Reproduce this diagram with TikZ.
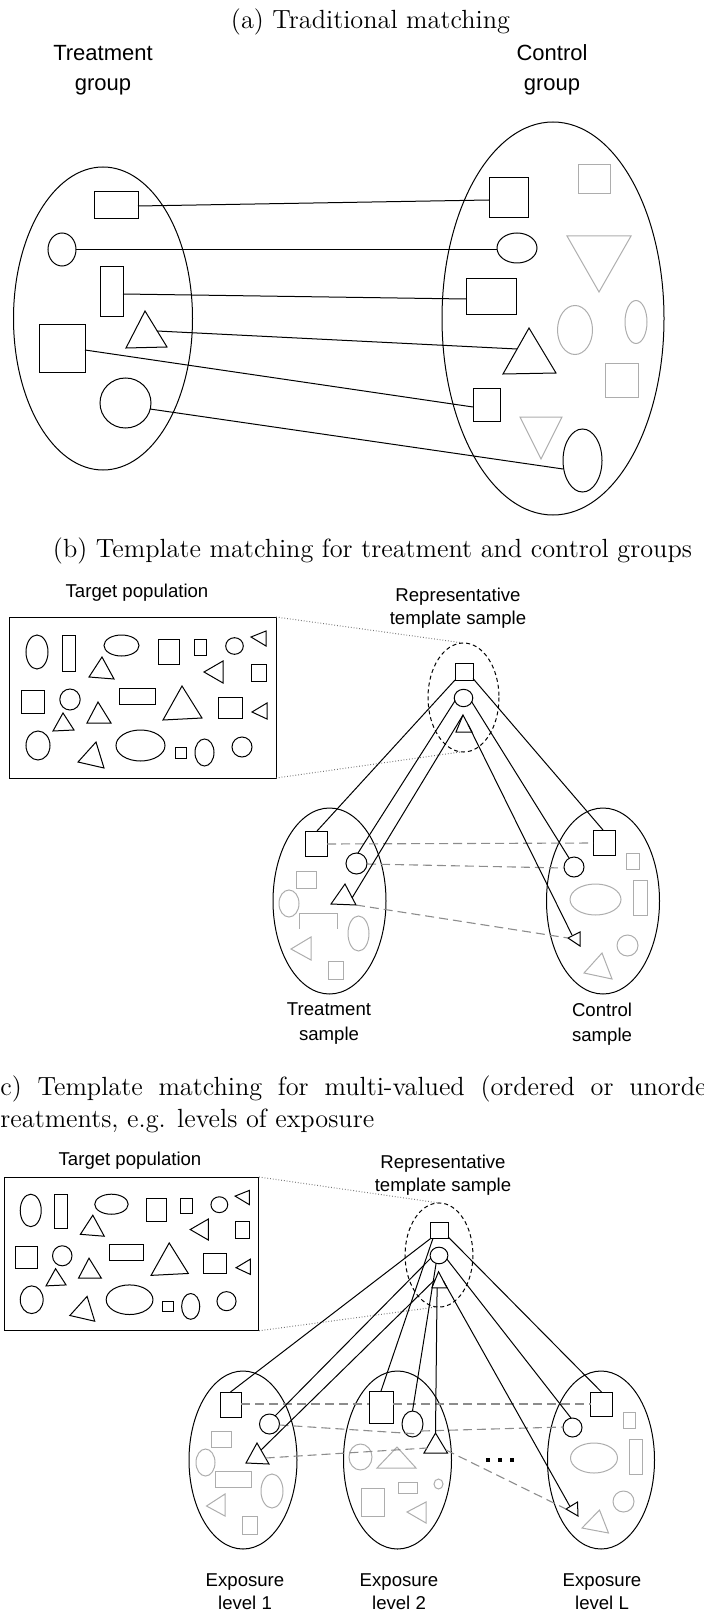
\documentclass[tikz,border=0pt]{standalone}
\usepackage{fontspec}
\setsansfont{Liberation Sans}
\newcommand\popshapes{%
 \draw[sh] (0,0) rectangle (267,161);
 \draw[sh] (28,35) ellipse [x radius=11,y radius=17];
 \draw[sh] (53,18) rectangle (66,54);
 \draw[sh] (112.5,28.5) ellipse [x radius=17.5,y radius=10.5];
 \draw[sh] (93,40) -- (80,60) -- (105,62) -- cycle;
 \draw[sh] (149,22) rectangle (170,47);
 \draw[sh] (185,22) rectangle (197,38);
 \draw[sh] (225.5,29) ellipse [x radius=8.8,y radius=8.3];
 \draw[sh] (242,20) -- (257,14) -- (257,29) -- cycle;
 \draw[sh] (195,55) -- (214,44) -- (214,66) -- cycle;
 \draw[sh] (242,47) rectangle (257,64);
 \draw[sh] (12,73) rectangle (35,96);
 \draw[sh] (61,82.5) ellipse [x radius=10.2,y radius=10.5];
 \draw[sh] (54,96) -- (44,114) -- (65,113) -- cycle;
 \draw[sh] (89,85) -- (78,106) -- (102,106) -- cycle;
 \draw[sh] (110,71) rectangle (146,87);
 \draw[sh] (173,69) -- (154,103) -- (193,101) -- cycle;
 \draw[sh] (209,80) rectangle (233,101);
 \draw[sh] (243,95) -- (258,86) -- (258,102) -- cycle;
 \draw[sh] (29,128.5) ellipse [x radius=12,y radius=14.5];
 \draw[sh] (87,125) -- (69,145) -- (95,151) -- cycle;
 \draw[sh] (131.5,128.5) ellipse [x radius=24.5,y radius=15.5];
 \draw[sh] (166,130) rectangle (177,141);
 \draw[sh] (195.5,135.5) ellipse [x radius=9.5,y radius=13.5];
 \draw[sh] (233,130) ellipse [x radius=10,y radius=10];
}
\newcommand\tmplshapes[1]{%
 \draw[tell] (0,0) ellipse [x radius=35.5,y radius=54.5];
 \draw[sh] (-8.5,-34.5) rectangle (9.5,-17.5);
 \draw[sh] (0,0.5) ellipse [x radius=9.3,y radius=8.7];
 \draw[sh] (-0.5,17.5) -- (-7.5,34.5) -- (8.5,34.5) -- cycle;
 \coordinate (#1top) at (0,-54.5);
 \coordinate (#1bot) at (-2,54.3);
 \coordinate (#1sqbl) at (-8.5,-17.5);
 \coordinate (#1sqbi) at (-6.3,-17.5);
 \coordinate (#1sqbr) at (9.5,-19);
 \coordinate (#1cw) at (-8.3,3);
 \coordinate (#1cs) at (-3,8.5);
 \coordinate (#1ce) at (8,4);
 \coordinate (#1ta) at (-0.5,17.5);
 \coordinate (#1tl) at (-4.5,26);
 \coordinate (#1tb) at (-2,34.5);
 \coordinate (#1tr) at (4.5,27);
}
\begin{document}
\begin{tikzpicture}[x=0.5pt,y=-0.5pt,
  sh/.style={draw=black,line width=0.5pt},
  gs/.style={draw=black!32,line width=0.5pt},
  mline/.style={draw=black,line width=0.5pt},
  dline/.style={draw=black!45,line width=0.55pt,dash pattern=on 4.5pt off 2.5pt},
  dotl/.style={draw=black!55,line width=0.5pt,dash pattern=on 0.4pt off 1pt},
  tell/.style={draw=black,line width=0.5pt,dash pattern=on 2pt off 1.5pt},
  captxt/.style={font=\fontsize{13.15}{16}\selectfont,inner sep=0},
  biglab/.style={font=\sffamily\fontsize{11}{15}\selectfont,align=center,inner sep=0},
  lab/.style={font=\sffamily\fontsize{9.3}{11.5}\selectfont,align=center,inner sep=0},
  labw/.style={font=\sffamily\fontsize{9.3}{12.5}\selectfont,align=center,inner sep=0}]
\useasboundingbox (0,0) rectangle (704,1615);
\clip (0,0) rectangle (704,1615);

% ---------------- (a)
\node[captxt,anchor=base] (capa) at (370.5,29) {(a) Traditional matching};
\node[biglab] (tg) at (103,70) {Treatment\\group};
\node[biglab] (cg) at (552,70) {Control\\group};
\draw[sh] (103,318.5) ellipse [x radius=89.5,y radius=151.5];
\draw[sh] (553,318.5) ellipse [x radius=111,y radius=196.5];
\draw[sh] (94,192) rectangle (138,219); \coordinate (aL1) at (138,206);
\draw[sh] (62,249.5) ellipse [x radius=14,y radius=16.5]; \coordinate (aL2) at (76,250);
\draw[sh] (100,267) rectangle (123,317); \coordinate (aL3) at (123,294);
\draw[sh] (145,311) -- (126,348) -- (167,347) -- cycle; \coordinate (aL4) at (157,331);
\draw[sh] (39,325) rectangle (85,372); \coordinate (aL5) at (85,350);
\draw[sh] (125.5,403) ellipse [x radius=25.5,y radius=25]; \coordinate (aL6) at (150,409);
\draw[sh] (489,178) rectangle (528,218); \coordinate (aR1) at (489,200);
\draw[sh] (517,248) ellipse [x radius=20,y radius=15]; \coordinate (aR2) at (497,250);
\draw[sh] (466,279) rectangle (516,315); \coordinate (aR3) at (466,299);
\draw[sh] (529,328) -- (503,374) -- (556,373) -- cycle; \coordinate (aR4) at (517,349);
\draw[sh] (473,388) rectangle (500,421); \coordinate (aR5) at (473,407);
\draw[sh] (582.5,460.5) ellipse [x radius=19.5,y radius=31.5]; \coordinate (aR6) at (563,469);
\draw[gs] (578,165) rectangle (610,194);
\draw[gs] (567,236) -- (631,236) -- (599,292) -- cycle;
\draw[gs] (575,330) ellipse [x radius=17.5,y radius=24.5];
\draw[gs] (636,322) ellipse [x radius=11,y radius=21.5];
\draw[gs] (605,363) rectangle (638,397);
\draw[gs] (520,417) -- (562,417) -- (541,459) -- cycle;
\draw[mline] (aL1) -- (aR1);
\draw[mline] (aL2) -- (aR2);
\draw[mline] (aL3) -- (aR3);
\draw[mline] (aL4) -- (aR4);
\draw[mline] (aL5) -- (aR5);
\draw[mline] (aL6) -- (aR6);

% ---------------- (b)
\node[captxt,anchor=base] (capb) at (372.5,557) {(b) Template matching for treatment and control groups};
\node[lab] (tpb) at (137,593) {Target population};
\node[lab] (rtb) at (458,608.5) {Representative\\template sample};
\begin{scope}[shift={(9,617)}]
 \popshapes
 \coordinate (bboxtr) at (267,0);
 \coordinate (bboxbr) at (267,161);
\end{scope}
\begin{scope}[shift={(463.5,697.5)}]
 \tmplshapes{bt}
\end{scope}
\draw[dotl] (bboxtr) -- (bttop);
\draw[dotl] (bboxbr) -- (btbot);
% treatment sample
\draw[sh] (329.5,901) ellipse [x radius=56.5,y radius=93];
\draw[sh] (305,831) rectangle (327,856);
\draw[sh] (356.5,863.5) ellipse [x radius=10.5,y radius=10.5];
\draw[sh] (345,884) -- (331,904) -- (356,905) -- cycle;
\draw[gs] (296,871) rectangle (316,888);
\draw[gs] (289,903.5) ellipse [x radius=10,y radius=13.5];
\draw[gs] (299,929) -- (299,913) -- (337,913) -- (337,929);
\draw[gs] (358.5,933.5) ellipse [x radius=10.5,y radius=17.5];
\draw[gs] (291,949) -- (311,937) -- (311,960) -- cycle;
\draw[gs] (328,961) rectangle (343,979);
% control sample
\draw[sh] (603,901) ellipse [x radius=56.5,y radius=93];
\draw[sh] (593,830) rectangle (615,855);
\draw[sh] (574,867) ellipse [x radius=10,y radius=10];
\draw[sh] (568,938) -- (580,932) -- (580,946) -- cycle;
\draw[gs] (626,853) rectangle (639,869);
\draw[gs] (595.5,899.5) ellipse [x radius=25.5,y radius=15.5];
\draw[gs] (633,880) rectangle (647,915);
\draw[gs] (627.5,945.5) ellipse [x radius=10.5,y radius=10.5];
\draw[gs] (584,973) -- (602,953) -- (612,979) -- cycle;
\coordinate (bTS) at (317,831); \coordinate (bTC) at (358,853); \coordinate (bTT) at (352,898);
\coordinate (bCS) at (603,830); \coordinate (bCC) at (569,858); \coordinate (bCT) at (572,935);
\coordinate (bTSe) at (327,844); \coordinate (bCSw) at (593,843);
\coordinate (bTCe) at (367,864); \coordinate (bCCw) at (564,868);
\coordinate (bTTr) at (356,905); \coordinate (bCTt) at (568,938);
\draw[dline] (bTSe) -- (bCSw);
\draw[dline] (bTCe) -- (bCCw);
\draw[dline] (bTTr) -- (bCTt);
\draw[mline] (btsqbl) -- (bTS);
\draw[mline] (btcw) -- (bTC);
\draw[mline] (btta) -- (bTT);
\draw[mline] (btsqbr) -- (bCS);
\draw[mline] (btce) -- (bCC);
\draw[mline] (bttr) -- (bCT);
\node[labw] (tsb) at (329,1024) {Treatment\\sample};
\node[labw] (csb) at (602,1024) {Control\\sample};

% ---------------- (c)
\node[captxt,anchor=north west,text width=381pt,align=justify] (capc) at (-10,1075)
 {(c) Template matching for multi-valued (ordered or unordered) \mbox{treatments,} e.g. levels of exposure};
\node[lab] (tpc) at (130,1160.5) {Target population};
\node[lab] (rtc) at (443,1175) {Representative\\template sample};
\begin{scope}[shift={(4,1177)},scale=0.955]
 \popshapes
 \coordinate (cboxtr) at (267,0);
 \coordinate (cboxbr) at (267,161);
\end{scope}
\begin{scope}[shift={(439,1255)},scale=0.955]
 \tmplshapes{ct}
\end{scope}
\draw[dotl] (cboxtr) -- (cttop);
\draw[dotl] (cboxbr) -- (ctbot);
% level 1
\draw[sh] (243,1460) ellipse [x radius=54,y radius=89];
\draw[sh] (220,1392) rectangle (241,1417);
\draw[sh] (269.5,1424) ellipse [x radius=10,y radius=10];
\draw[sh] (257,1443) -- (246,1463) -- (269,1464) -- cycle;
\draw[gs] (211,1431) rectangle (231,1447);
\draw[gs] (205.5,1462.5) ellipse [x radius=9.5,y radius=13.5];
\draw[gs] (215,1471) rectangle (251,1487);
\draw[gs] (272,1491) ellipse [x radius=11,y radius=17];
\draw[gs] (206.5,1506) -- (225,1494) -- (225,1516) -- cycle;
\draw[gs] (242,1516) rectangle (257,1534);
% level 2
\draw[sh] (397.5,1460) ellipse [x radius=54,y radius=89];
\draw[sh] (369,1391) rectangle (393,1423);
\draw[sh] (412.5,1424) ellipse [x radius=10.5,y radius=13];
\draw[sh] (435.5,1433) -- (424,1453) -- (447.5,1453) -- cycle;
\draw[gs] (360.5,1457) ellipse [x radius=11.5,y radius=13];
\draw[gs] (397,1447) -- (377,1468) -- (416,1468) -- cycle;
\draw[gs] (398,1482) rectangle (417,1493);
\draw[gs] (438.5,1484) ellipse [x radius=4.5,y radius=5];
\draw[gs] (361,1488) rectangle (384,1516);
\draw[gs] (407,1512) -- (426,1502) -- (426,1523) -- cycle;
% level L
\draw[sh] (601,1460) ellipse [x radius=53.5,y radius=89];
\draw[sh] (590.5,1392) rectangle (612,1416);
\draw[sh] (572.5,1427.5) ellipse [x radius=9.5,y radius=9.5];
\draw[sh] (566,1509) -- (577.5,1502) -- (578,1516) -- cycle;
\draw[gs] (623,1412) rectangle (635,1428);
\draw[gs] (594,1458) ellipse [x radius=23.5,y radius=15];
\draw[gs] (629.5,1439) rectangle (642,1474);
\draw[gs] (623.5,1501.5) ellipse [x radius=10.5,y radius=10.5];
\draw[gs] (582,1528) -- (599.5,1510) -- (608.5,1533) -- cycle;
% dots
\fill[black] (486,1458) rectangle (489.5,1461.5);
\fill[black] (498,1458) rectangle (501.5,1461.5);
\fill[black] (510,1458) rectangle (513.5,1461.5);
\coordinate (cE1S) at (230.5,1392); \coordinate (cE2S) at (381,1391); \coordinate (cELS) at (601.5,1392);
\coordinate (cE1C) at (275,1416); \coordinate (cE2C) at (412.5,1411); \coordinate (cELC) at (571,1418);
\coordinate (cE1T) at (261,1450); \coordinate (cE2T) at (435.5,1433); \coordinate (cELT) at (570,1506.5);
\coordinate (c1Se) at (241,1404); \coordinate (c2Sw) at (369,1404);
\coordinate (c2Se) at (393,1404); \coordinate (cLSw) at (590.5,1404);
\coordinate (c1Ce) at (279.5,1425); \coordinate (c2Cb) at (419,1434);
\coordinate (c2Ce) at (421,1431); \coordinate (cLCw) at (563,1427);
\coordinate (c1Tr) at (265.6,1458); \coordinate (c2Tl) at (427,1448);
\coordinate (c2Tr) at (446,1450); \coordinate (cLTt) at (566,1509);
\draw[dline] (c1Se) -- (c2Sw);
\draw[dline] (c2Se) -- (cLSw);
\draw[dline] (c1Ce) -- (c2Cb);
\draw[dline] (c2Ce) -- (cLCw);
\draw[dline] (c1Tr) -- (c2Tl);
\draw[dline] (c2Tr) -- (cLTt);
\draw[mline] (ctsqbl) -- (cE1S);
\draw[mline] (ctsqbi) -- (cE2S);
\draw[mline] (ctsqbr) -- (cELS);
\draw[mline] (ctcw) -- (cE1C);
\draw[mline] (ctcs) -- (cE2C);
\draw[mline] (ctce) -- (cELC);
\draw[mline] (cttl) -- (cE1T);
\draw[mline] (cttb) -- (cE2T);
\draw[mline] (cttr) -- (cELT);
\node[lab] (e1) at (245,1591.5) {Exposure\\level 1};
\node[lab] (e2) at (399,1591.5) {Exposure\\level 2};
\node[lab] (eL) at (602,1591.5) {Exposure\\level L};
\end{tikzpicture}
\end{document}
